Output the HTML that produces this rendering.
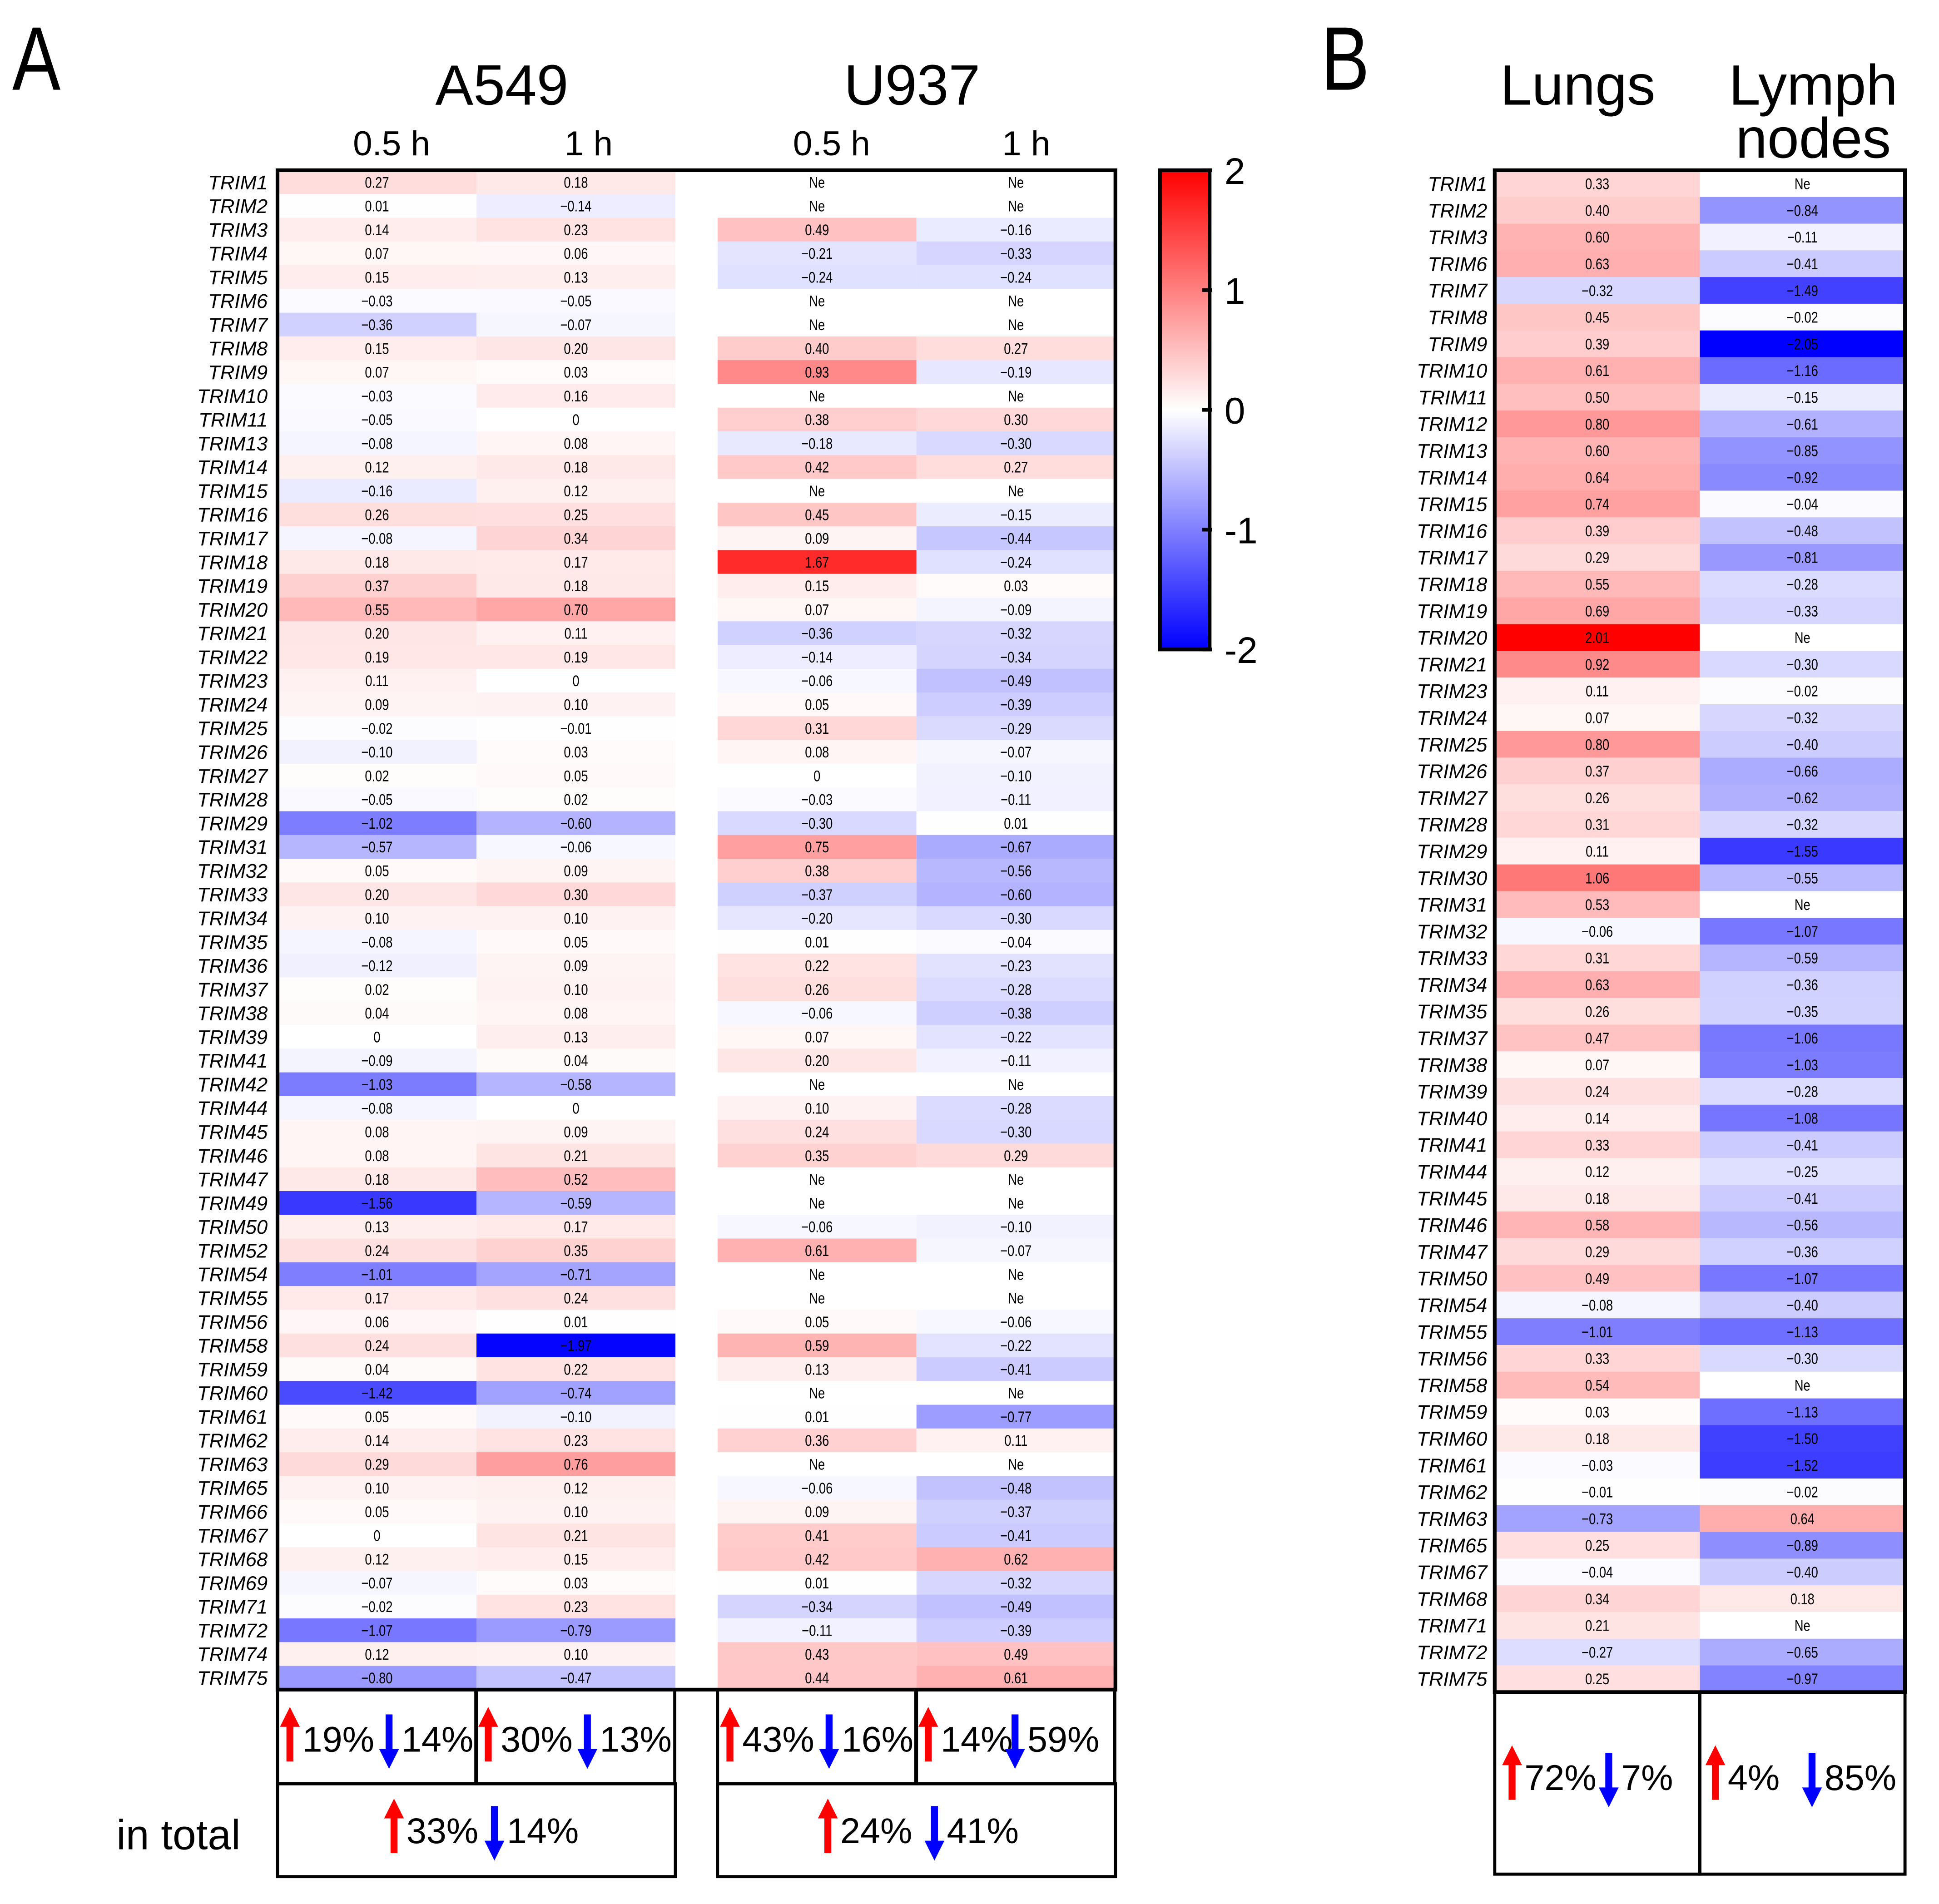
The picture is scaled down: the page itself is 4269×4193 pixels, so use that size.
<!DOCTYPE html>
<html><head><meta charset="utf-8"><style>
html,body{margin:0;padding:0;background:#fff}
svg{display:block}
text{font-family:"Liberation Sans",sans-serif}
</style></head><body>
<svg id="chart" width="4269" height="4193" viewBox="0 0 1554 1527" preserveAspectRatio="none" xmlns="http://www.w3.org/2000/svg">
<rect width="1554" height="1527" fill="#fff"/>
<g id="root" transform="matrix(0.9934,0,0,0.9931,-2.1,-1.5)">
<text x="0" y="74" font-size="73" transform="translate(12,0) scale(0.8,1)">A</text>
<text x="0" y="74" font-size="73" transform="translate(1068,0) scale(0.8,1)">B</text>
<text x="407" y="86" font-size="46" text-anchor="middle">A549</text>
<text x="738" y="86" font-size="46" text-anchor="middle">U937</text>
<text x="318" y="127" font-size="28" text-anchor="middle">0.5 h</text>
<text x="477" y="127" font-size="28" text-anchor="middle">1 h</text>
<text x="673" y="127" font-size="28" text-anchor="middle">0.5 h</text>
<text x="830" y="127" font-size="28" text-anchor="middle">1 h</text>
<text x="1275" y="86" font-size="46" text-anchor="middle">Lungs</text>
<text x="1465" y="86" font-size="46" text-anchor="middle">Lymph</text>
<text x="1465" y="129" font-size="46" text-anchor="middle">nodes</text>
<g id="ga"></g><g id="gb"></g><g id="gc"></g><g id="gs"></g>
</g>
</svg>
<script>
const NE = null;
const genesA = [1,2,3,4,5,6,7,8,9,10,11,13,14,15,16,17,18,19,20,21,22,23,24,25,26,27,28,29,31,32,33,34,35,36,37,38,39,41,42,44,45,46,47,49,50,52,54,55,56,58,59,60,61,62,63,65,66,67,68,69,71,72,74,75];
const a549_05 = [.27,.01,.14,.07,.15,-.03,-.36,.15,.07,-.03,-.05,-.08,.12,-.16,.26,-.08,.18,.37,.55,.20,.19,.11,.09,-.02,-.10,.02,-.05,-1.02,-.57,.05,.20,.10,-.08,-.12,.02,.04,0,-.09,-1.03,-.08,.08,.08,.18,-1.56,.13,.24,-1.01,.17,.06,.24,.04,-1.42,.05,.14,.29,.10,.05,0,.12,-.07,-.02,-1.07,.12,-.80];
const a549_1 = [.18,-.14,.23,.06,.13,-.05,-.07,.20,.03,.16,0,.08,.18,.12,.25,.34,.17,.18,.70,.11,.19,0,.10,-.01,.03,.05,.02,-.60,-.06,.09,.30,.10,.05,.09,.10,.08,.13,.04,-.58,0,.09,.21,.52,-.59,.17,.35,-.71,.24,.01,-1.97,.22,-.74,-.10,.23,.76,.12,.10,.21,.15,.03,.23,-.79,.10,-.47];
const u937_05 = [NE,NE,.49,-.21,-.24,NE,NE,.40,.93,NE,.38,-.18,.42,NE,.45,.09,1.67,.15,.07,-.36,-.14,-.06,.05,.31,.08,0,-.03,-.30,.75,.38,-.37,-.20,.01,.22,.26,-.06,.07,.20,NE,.10,.24,.35,NE,NE,-.06,.61,NE,NE,.05,.59,.13,NE,.01,.36,NE,-.06,.09,.41,.42,.01,-.34,-.11,.43,.44];
const u937_1 = [NE,NE,-.16,-.33,-.24,NE,NE,.27,-.19,NE,.30,-.30,.27,NE,-.15,-.44,-.24,.03,-.09,-.32,-.34,-.49,-.39,-.29,-.07,-.10,-.11,.01,-.67,-.56,-.60,-.30,-.04,-.23,-.28,-.38,-.22,-.11,NE,-.28,-.30,.29,NE,NE,-.10,-.07,NE,NE,-.06,-.22,-.41,NE,-.77,.11,NE,-.48,-.37,-.41,.62,-.32,-.49,-.39,.49,.61];
const genesB = [1,2,3,6,7,8,9,10,11,12,13,14,15,16,17,18,19,20,21,23,24,25,26,27,28,29,30,31,32,33,34,35,37,38,39,40,41,44,45,46,47,50,54,55,56,58,59,60,61,62,63,65,67,68,71,72,75];
const lungs = [.33,.40,.60,.63,-.32,.45,.39,.61,.50,.80,.60,.64,.74,.39,.29,.55,.69,2.01,.92,.11,.07,.80,.37,.26,.31,.11,1.06,.53,-.06,.31,.63,.26,.47,.07,.24,.14,.33,.12,.18,.58,.29,.49,-.08,-1.01,.33,.54,.03,.18,-.03,-.01,-.73,.25,-.04,.34,.21,-.27,.25];
const lymph = [NE,-.84,-.11,-.41,-1.49,-.02,-2.05,-1.16,-.15,-.61,-.85,-.92,-.04,-.48,-.81,-.28,-.33,NE,-.30,-.02,-.32,-.40,-.66,-.62,-.32,-1.55,-.55,NE,-1.07,-.59,-.36,-.35,-1.06,-1.03,-.28,-1.08,-.41,-.25,-.41,-.56,-.36,-1.07,-.40,-1.13,-.30,NE,-1.13,-1.50,-1.52,-.02,.64,-.89,-.40,.18,NE,-.65,-.97];
const colorTicks = [2,1,0,-1,-2];
const sumA = [[19,14],[30,13],[43,16],[14,59]];
const totA = [[33,14],[24,41]];
const sumB = [[72,7],[4,85]];

const NS="http://www.w3.org/2000/svg";
function mk(tag,attrs,parent,txt){const e=document.createElementNS(NS,tag);for(const k in attrs)e.setAttribute(k,attrs[k]);if(txt!==undefined)e.textContent=txt;parent.appendChild(e);return e;}
function color(v){if(v===null)return "#fff";const f=Math.max(-1,Math.min(1,v/2));const c=Math.round(255*(1-Math.abs(f)));return f>=0?`rgb(255,${c},${c})`:`rgb(${c},${c},255)`;}
function fmt(v){if(v===null)return "Ne";if(v===0)return "0";return (v<0?"\u2212":"")+Math.abs(v).toFixed(2);}
function heat(g,genes,cols,xs,w,top,bottom,labelX,labelSize,prefix){
  const h=(bottom-top)/genes.length;
  genes.forEach((gn,i)=>{
    const y=top+i*h;
    const t=mk('text',{x:labelX,y:y+h/2+labelSize*0.36,'font-size':labelSize,'font-style':'italic','text-anchor':'end'},g,'TRIM'+gn);
    
    
    cols.forEach((col,j)=>{
      const r=mk('rect',{x:xs[j],y:y,width:w,height:h+0.3,fill:color(col[i])},g);
      
      
      const cx=xs[j]+w/2;
      const vt=mk('text',{x:cx,y:y+h/2+4.5,'font-size':12.5,'text-anchor':'middle',transform:`translate(${cx},0) scale(0.8,1) translate(${-cx},0)`},g,fmt(col[i]));
      
      
    });
  });
}
const ga=document.getElementById('ga');
heat(ga,genesA,[a549_05,a549_1,u937_05,u937_1],[226,386.5,581,741.5],160.5,139,1366,218,16,'a');
mk('rect',{x:547,y:139,width:34,height:1227,fill:'#fff'},ga);
const frameA=mk('rect',{x:226,y:139,width:676,height:1227,fill:'none',stroke:'#000','stroke-width':3},ga);


const gb=document.getElementById('gb');
heat(gb,genesB,[lungs,lymph],[1208,1373.5],165.5,139,1368,1202,16,'b');
const frameB=mk('rect',{x:1208,y:139,width:331,height:1229,fill:'none',stroke:'#000','stroke-width':3},gb);



const gc=document.getElementById('gc');
const defs=mk('defs',{},gc);
const lg=mk('linearGradient',{id:'cb',x1:0,y1:0,x2:0,y2:1},defs);
mk('stop',{offset:'0','stop-color':'#f00'},lg);mk('stop',{offset:'0.5','stop-color':'#fff'},lg);mk('stop',{offset:'1','stop-color':'#00f'},lg);
const cbx=938,cbw=40,cbt=139,cbb=526;
const cb=mk('rect',{x:cbx,y:cbt,width:cbw,height:cbb-cbt,fill:'url(#cb)',stroke:'#000','stroke-width':3},gc);


function cy(v){return cbt+(2-v)/4*(cbb-cbt);}
colorTicks.forEach(v=>{
  mk('line',{x1:cbx+cbw-6,x2:cbx+cbw+2,y1:cy(v),y2:cy(v),stroke:'#000','stroke-width':3},gc);
  const t=mk('text',{x:990,y:cy(v)+11,'font-size':30},gc,v<0?'-'+Math.abs(v):String(v));
  
  
});

const gs=document.getElementById('gs');
function arrow(x,yTop,len,up,col){
  const hw=8,hh=16,sw=2.8;
  let d;
  if(up){d=`M${x},${yTop} L${x+hw},${yTop+hh} L${x+sw},${yTop+hh} L${x+sw},${yTop+len} L${x-sw},${yTop+len} L${x-sw},${yTop+hh} L${x-hw},${yTop+hh} Z`;}
  else{const yb=yTop+len;d=`M${x},${yb} L${x+hw},${yb-hh} L${x+sw},${yb-hh} L${x+sw},${yTop} L${x-sw},${yTop} L${x-sw},${yb-hh} L${x-hw},${yb-hh} Z`;}
  const p=mk('path',{d:d,fill:col},gs);
  
  
}
function box(x,y,w,h,name){const r=mk('rect',{x:x,y:y,width:w,height:h,fill:'none',stroke:'#000','stroke-width':2.5},gs);}
function summary(x0,ty,pair,gap2,name){
  arrow(x0+10,ty-36,44,true,'#f00');
  const t1=mk('text',{x:x0+20,y:ty,'font-size':29},gs,pair[0]+'%');
  
  
  arrow(x0+gap2,ty-30,44,false,'#00f');
  const t2=mk('text',{x:x0+gap2+10,y:ty,'font-size':29},gs,pair[1]+'%');
  
  
}
const bx=[226,386,581,741];
bx.forEach((x,i)=>{box(x,1366,160.5,76,'summary-box-'+(i+1));summary(x,1416,sumA[i],i==3?80:90,'summary-'+(i+1));});
box(226,1442,321,75,'total-box-a549');box(581,1442,321,75,'total-box-u937');
summary(310,1490,totA[0],91,'total-a549');summary(660,1490,totA[1],96,'total-u937');
const it=mk('text',{x:96,y:1495,'font-size':34},gs,'in total');


box(1208,1368,165.5,147,'summary-box-lungs');box(1373.5,1368,165.5,147,'summary-box-lymph');
summary(1212,1447,sumB[0],88,'summary-lungs');summary(1376,1447,sumB[1],88,'summary-lymph');
</script>
</body></html>
